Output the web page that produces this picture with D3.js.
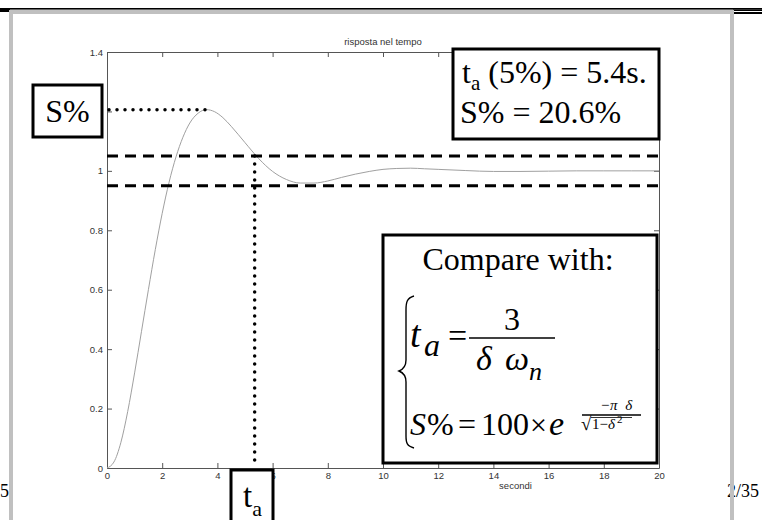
<!DOCTYPE html>
<html>
<head>
<meta charset="utf-8">
<script src="https://cdn.jsdelivr.net/npm/d3@7/dist/d3.min.js"></script>
<style>
body{margin:0;background:#fff;}
svg{display:block;}
</style>
</head>
<body>
<script>
// step response
const time=[0,0.25,0.5,0.75,1,1.25,1.5,1.75,2,2.25,2.5,2.75,3,3.3,3.6,3.9,4.2,4.5,5,5.5,6,6.5,7,7.5,8,8.5,9,9.5,10,10.5,11,11.5,12,12.5,13,13.5,14,15,16,17,18,19,20]
const response=[0,0.02,0.085,0.19,0.32,0.46,0.6,0.735,0.857,0.962,1.047,1.113,1.161,1.194,1.206,1.199,1.179,1.15,1.095,1.041,0.998,0.971,0.959,0.959,0.966,0.978,0.989,0.998,1.005,1.008,1.009,1.007,1.005,1.003,1.001,0.999,0.998,0.998,0.999,1,1,1,1]

const xTicks=[0,2,4,6,8,10,12,14,16,18,20]
const yTicks=[0,0.2,0.4,0.6,0.8,1,1.2,1.4]
const yTickLabels=['0','0.2','0.4','0.6','0.8','1','1.2','1.4']
const band=[0.95,1.05]
const peak={t:3.6,v:1.206}
const settle={t:5.35,v:1.05}
const chartTitle='risposta nel tempo'
const xLabel='secondi'

const width=762, height=520
const margin=({top:52, right:103, bottom:52, left:107})

let svg=d3.select('body').append('svg')
	.attr('width',width)
	.attr('height',height)

let xScale=d3.scaleLinear()
	.domain([0,20])
	.range([margin.left,width-margin.right])

let yScale=d3.scaleLinear()
	.domain([0,1.4])
	.range([height-margin.bottom,margin.top])

const axisFont=g=>g
	.attr('font-family','"Liberation Sans", Arial, sans-serif')
	.attr('font-size',9.5)
	.call(g=>g.selectAll('.domain').attr('stroke','#555'))
	.call(g=>g.selectAll('.tick line').attr('stroke','#555'))
	.call(g=>g.selectAll('.tick text').attr('fill','#333'))

svg.append('g')
	.attr('transform',`translate(0,${yScale(0)})`)
	.call(d3.axisBottom(xScale).tickValues(xTicks).tickSizeInner(-5).tickSizeOuter(0).tickPadding(4))
	.call(axisFont)

svg.append('g')
	.attr('transform',`translate(${xScale(0)},0)`)
	.call(d3.axisLeft(yScale).tickValues(yTicks).tickFormat((d,i)=>yTickLabels[i]).tickSizeInner(-5).tickSizeOuter(0).tickPadding(4))
	.call(axisFont)

svg.append('g')
	.attr('transform',`translate(0,${yScale(1.4)})`)
	.call(d3.axisTop(xScale).tickValues(xTicks).tickFormat('').tickSizeInner(-5).tickSizeOuter(0))
	.call(axisFont)

svg.append('g')
	.attr('transform',`translate(${xScale(20)},0)`)
	.call(d3.axisRight(yScale).tickValues(yTicks).tickFormat('').tickSizeInner(-5).tickSizeOuter(0))
	.call(axisFont)

svg.append('text')
	.attr('x',(xScale(0)+xScale(20))/2)
	.attr('y',45)
	.attr('text-anchor','middle')
	.attr('font-family','"Liberation Sans", Arial, sans-serif')
	.attr('font-size',9.5)
	.attr('fill','#333')
	.text(chartTitle)

svg.append('text')
	.attr('x',xScale(14.8))
	.attr('y',489)
	.attr('text-anchor','middle')
	.attr('font-family','"Liberation Sans", Arial, sans-serif')
	.attr('font-size',9.5)
	.attr('fill','#333')
	.text(xLabel)

const line=d3.line()
	.x((d,i)=>xScale(time[i]))
	.y(d=>yScale(d))
	.curve(d3.curveMonotoneX)

svg.append('path')
	.datum(response)
	.attr('fill','none')
	.attr('stroke','#a0a0a0')
	.attr('stroke-width',1)
	.attr('d',line)

// 5% band
svg.append('g')
	.selectAll('line')
	.data(band)
	.join('line')
	.attr('x1',xScale(0))
	.attr('x2',xScale(20))
	.attr('y1',d=>yScale(d))
	.attr('y2',d=>yScale(d))
	.attr('stroke','black')
	.attr('stroke-width',3)
	.attr('stroke-dasharray','11,7')

// dotted guides
const dotted=sel=>sel
	.attr('stroke','black')
	.attr('stroke-width',3.5)
	.attr('stroke-linecap','round')
	.attr('stroke-dasharray','0,8')

svg.append('line')
	.attr('x1',xScale(0)-6).attr('x2',xScale(peak.t))
	.attr('y1',yScale(peak.v)).attr('y2',yScale(peak.v))
	.call(dotted)

svg.append('line')
	.attr('x1',xScale(settle.t)).attr('x2',xScale(settle.t))
	.attr('y1',yScale(settle.v)).attr('y2',yScale(0)-3)
	.call(dotted)

const serif='"Liberation Serif", "Times New Roman", serif'

function box(x,y,w,h){
	svg.append('rect')
		.attr('x',x).attr('y',y).attr('width',w).attr('height',h)
		.attr('fill','white').attr('stroke','black').attr('stroke-width',3)
}

// S% label
box(33,85,69,52)
svg.append('text')
	.attr('x',67.5).attr('y',122)
	.attr('text-anchor','middle')
	.attr('font-family',serif).attr('font-size',32)
	.text('S%')

// t_a label
box(231,470,42,60)
const ta=svg.append('text')
	.attr('x',243).attr('y',507)
	.attr('font-family',serif).attr('font-size',33)
ta.append('tspan').text('t')
ta.append('tspan').attr('font-size',22).attr('dy',9).text('a')

// results box
box(453,49,206,90)
const r1=svg.append('text')
	.attr('x',462).attr('y',83)
	.attr('font-family',serif).attr('font-size',32)
r1.append('tspan').text('t')
r1.append('tspan').attr('font-size',21).attr('dy',7).text('a')
r1.append('tspan').attr('dy',-7).text('\u00a0(5%) = 5.4s.')
svg.append('text')
	.attr('x',460).attr('y',123)
	.attr('font-family',serif).attr('font-size',32)
	.text('S% = 20.6%')

// formula box
box(383,235,274,228)
svg.append('text')
	.attr('x',518).attr('y',270)
	.attr('text-anchor','middle')
	.attr('font-family',serif).attr('font-size',32)
	.text('Compare with:')

svg.append('path')
	.attr('d','M414,296 C407,298 406,302 406,310 L406,360 C406,366 404,369 399,371 C404,373 406,376 406,382 L406,436 C406,443 407,446 414,448')
	.attr('fill','none').attr('stroke','black').attr('stroke-width',1.4)

const f=(x,y,size,txt,italic,anchor)=>svg.append('text')
	.attr('x',x).attr('y',y)
	.attr('font-family',serif).attr('font-size',size)
	.attr('font-style',italic?'italic':'normal')
	.attr('text-anchor',anchor||'start')
	.text(txt)

f(410,347,38,'t',true)
f(424,356,32,'a',true)
f(448,347,34,'=')
svg.append('line').attr('x1',469).attr('x2',555).attr('y1',338).attr('y2',338)
	.attr('stroke','black').attr('stroke-width',1.5)
f(512,330,32,'3',false,'middle')
f(476,370,34,'\u03b4',true)
f(505,370,34,'\u03c9',true)
f(529,380,26,'n',true)

f(410,435,32,'S',true)
f(427,435,32,'%')
f(458,435,32,'=')
f(481,435,32,'100')
f(530,435,30,'\u00d7')
f(549,435,34,'e',true)
svg.append('line').attr('x1',582).attr('x2',641).attr('y1',415).attr('y2',415)
	.attr('stroke','black').attr('stroke-width',1.3)
f(600,410,15,'\u2212\u03c0\u00a0\u00a0\u03b4',true)
f(581,430,19,'\u221a')
svg.append('line').attr('x1',591).attr('x2',632).attr('y1',417.5).attr('y2',417.5)
	.attr('stroke','black').attr('stroke-width',0.8)
f(592,429,15,'1\u2212',false)
f(608,429,15,'\u03b4',true)
f(617,423,11,'2')

// slide page numbers behind the frame
f(0,497,18,'5.')
f(727,497,18,'2/35')

// slide frame
svg.append('rect').attr('x',0).attr('y',8).attr('width',width).attr('height',1.6).attr('fill','black')
svg.append('rect').attr('x',0).attr('y',9).attr('width',10).attr('height',3).attr('fill','black')
svg.append('rect').attr('x',733).attr('y',9.5).attr('width',29).attr('height',1.5).attr('fill','black')
svg.append('rect').attr('x',733).attr('y',12).attr('width',29).attr('height',2).attr('fill','black')
svg.append('rect')
	.attr('x',11).attr('y',12).attr('width',721).attr('height',540)
	.attr('fill','none').attr('stroke','#c0c0c0').attr('stroke-width',4)
</script>
</body>
</html>
